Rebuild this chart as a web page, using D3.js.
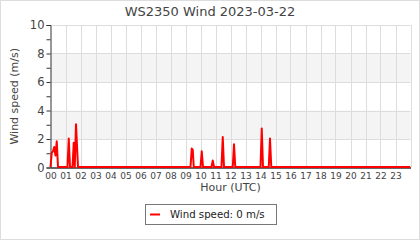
<!DOCTYPE html>
<html>
<head>
<meta charset="utf-8">
<script src="https://cdn.jsdelivr.net/npm/d3@7"></script>
<style>
  body { margin: 0; background: #fff; }
  svg { display: block; font-family: "DejaVu Sans", sans-serif; }
</style>
</head>
<body>
<svg id="canvas" width="420" height="240"></svg>
<script>
// wind samples, time of day and speed in m/s
let times = ["00:00","00:05","00:10","00:15","00:20","00:25","00:30",
  "01:08","01:13","01:18","01:28","01:33","01:37","01:42","01:50",
  "09:20","09:25","09:29","09:33","10:00","10:05","10:10",
  "10:44","10:49","10:54","11:24","11:29","11:34","12:09","12:14","12:19",
  "14:00","14:05","14:10","14:33","14:38","14:43","23:59"]
let speeds = [0,1.0,1.1,1.4,0.8,1.8,0,
  0,2.0,0,0,1.7,0,3.0,0,
  0,1.3,1.2,0,0,1.1,0,
  0,0.45,0,0,2.1,0,0,1.6,0,
  0,2.7,0,0,2.0,0,0]
let hourLabels = d3.range(24).map(h => String(h).padStart(2, "0"))
let yTicks = [0,2,4,6,8,10]
let bands = [[2,4],[6,8]]

let svg = d3.select("#canvas")
let mLeft = 50.5, mRight = 410.5, mTop = 25, mBottom = 167.5

let x = d3.scaleLinear().domain([0,24]).range([mLeft,mRight])
let y = d3.scaleLinear().domain([0,10]).range([mBottom,mTop])

let toHour = t => { let p = t.split(":"); return +p[0] + p[1]/60 }
let data = times.map((t,i) => ({h: toHour(t), v: speeds[i]}))

// outer frame
svg.append("rect").attr("x",0.5).attr("y",0.5).attr("width",419).attr("height",239)
  .attr("fill","none").attr("stroke","#ddd")

// bands
svg.selectAll(".band").data(bands).enter().append("rect")
  .attr("x",mLeft).attr("width",mRight-mLeft)
  .attr("y",d => y(d[1])).attr("height",d => y(d[0]) - y(d[1]))
  .attr("fill","#f4f4f4")

// grid
svg.append("g").selectAll("line").data(d3.range(1,25)).enter().append("line")
  .attr("x1",d => Math.round(x(d))+0.5).attr("x2",d => Math.round(x(d))+0.5)
  .attr("y1",mTop).attr("y2",mBottom)
  .attr("stroke","#ddd")
svg.append("g").selectAll("line").data(yTicks.slice(1)).enter().append("line")
  .attr("x1",mLeft).attr("x2",mRight)
  .attr("y1",d => Math.round(y(d))+0.5).attr("y2",d => Math.round(y(d))+0.5)
  .attr("stroke","#ddd")

// y axis
let yAxis = svg.append("g").attr("transform","translate(" + mLeft + ",0)")
  .call(d3.axisLeft(y).tickValues(d3.range(0,11)).tickSize(4)
    .tickFormat(d => d % 2 == 0 ? d : ""))
yAxis.select(".domain").attr("stroke","#333")
yAxis.selectAll("line").attr("stroke","#333")
yAxis.selectAll("text").attr("font-size",11.5).attr("fill","#444")
  .attr("font-family","DejaVu Sans").attr("x",-6)

// x axis
let xAxis = svg.append("g").attr("transform","translate(0," + mBottom + ")")
  .call(d3.axisBottom(x).tickValues(d3.range(24)).tickSize(0)
    .tickFormat(d => hourLabels[d]))
xAxis.select(".domain").attr("stroke","#333").attr("stroke-width",1.5)
xAxis.selectAll("text").attr("font-size",9).attr("fill","#444")
  .attr("font-family","DejaVu Sans").attr("dy","0.95em")

// line
let line = d3.line().x(d => x(d.h)).y(d => y(d.v) - 0.5)
svg.append("path").datum(data).attr("d",line)
  .attr("fill","none").attr("stroke","#ff0000").attr("stroke-width",2)
  .attr("stroke-linejoin","round")

// titles
svg.append("text").attr("x",210).attr("y",16).attr("text-anchor","middle")
  .attr("font-size",13).attr("fill","#444").text("WS2350 Wind 2023-03-22")
svg.append("text").attr("x",(mLeft+mRight)/2).attr("y",191).attr("text-anchor","middle")
  .attr("font-size",11).attr("fill","#444").text("Hour (UTC)")
svg.append("text").attr("transform","translate(18," + ((mTop+mBottom)/2) + ") rotate(-90)")
  .attr("text-anchor","middle").attr("font-size",11).attr("fill","#444")
  .text("Wind speed (m/s)")

// legend
let lg = svg.append("g")
lg.append("rect").attr("x",145.5).attr("y",204.5).attr("width",131).attr("height",20)
  .attr("fill","#fff").attr("stroke","#777")
lg.append("line").attr("x1",150).attr("x2",160).attr("y1",214.5).attr("y2",214.5)
  .attr("stroke","#ff0000").attr("stroke-width",2)
lg.append("text").attr("x",170).attr("y",218).attr("font-size",10.2).attr("fill","#222")
  .text("Wind speed: " + speeds[speeds.length-1] + " m/s")
</script>
</body>
</html>
